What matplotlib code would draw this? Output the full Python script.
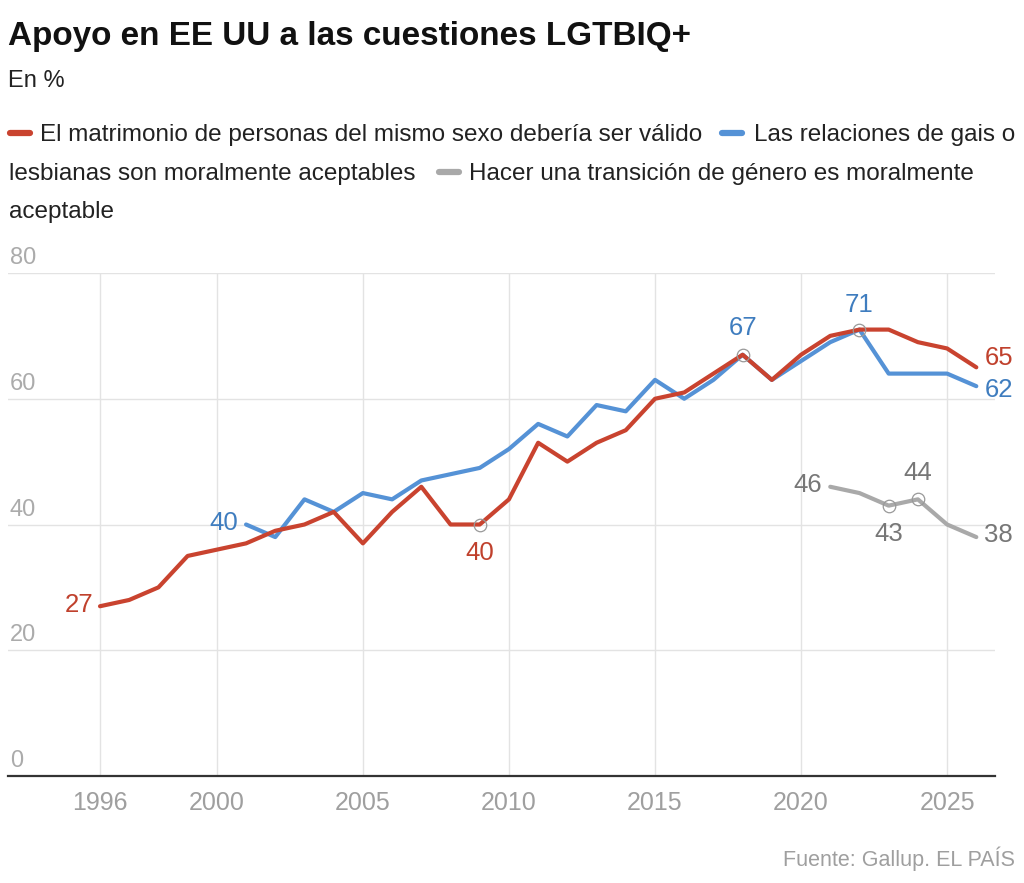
import matplotlib
matplotlib.use("Agg")
import matplotlib.pyplot as plt
from matplotlib.lines import Line2D

# Gallup series (in %)
years_matrimonio = list(range(1996, 2027))
matrimonio = [27, 28, 30, 35, 36, 37, 39, 40, 42, 37, 42, 46, 40, 40, 44, 53,
              50, 53, 55, 60, 61, 64, 67, 63, 67, 70, 71, 71, 69, 68, 65]
years_relaciones = list(range(2001, 2027))
relaciones = [40, 38, 44, 42, 45, 44, 47, 48, 49, 52, 56, 54, 59, 58, 63, 60,
              63, 67, 63, 66, 69, 71, 64, 64, 64, 62]
years_transicion = list(range(2021, 2027))
transicion = [46, 45, 43, 44, 40, 38]

xticks = [1996, 2000, 2005, 2010, 2015, 2020, 2025]
yticks = [20, 40, 60, 80]

RED = "#c9432f"
BLUE = "#5592d6"
GRAY = "#a9a9a9"
RED_TXT = "#c0412d"
BLUE_TXT = "#3f7dbf"
GRAY_TXT = "#777777"

plt.rcParams["font.family"] = ["Liberation Sans", "DejaVu Sans"]

W, H = 1024, 883
fig = plt.figure(figsize=(W / 100, H / 100), dpi=100)


def fx(px):
    return px / W


def fy(py):
    return 1 - py / H


# plot area: value 0 at y=776px, value 80 at y=273px
ax = fig.add_axes([fx(8), fy(776), fx(995) - fx(8), fy(273) - fy(776)])
ax.set_xlim(1992.85, 2026.64)
ax.set_ylim(0, 80)

for s in ["top", "left", "right"]:
    ax.spines[s].set_visible(False)
ax.spines["bottom"].set_color("#333333")
ax.spines["bottom"].set_linewidth(1.6)

ax.set_xticks(xticks)
ax.set_xticklabels([str(y) for y in xticks])
ax.set_yticks(yticks)
ax.set_yticklabels([])
ax.tick_params(axis="x", length=0, pad=11, labelsize=18, labelcolor="#9f9f9f")
ax.tick_params(axis="y", length=0)
ax.grid(True, color="#e3e3e3", linewidth=1)
ax.set_axisbelow(True)

# y labels above the gridlines
for v in [0] + yticks:
    ax.annotate(str(v), xy=(1992.85, v), xytext=(2, 4), textcoords="offset pixels",
                ha="left", va="bottom", fontsize=17, color="#ababab")

ax.plot(years_transicion, transicion, color=GRAY, lw=3, solid_capstyle="round", zorder=3)
ax.plot(years_relaciones, relaciones, color=BLUE, lw=3, solid_capstyle="round", zorder=3)
ax.plot(years_matrimonio, matrimonio, color=RED, lw=3, solid_capstyle="round", zorder=4)

# highlighted points
circ = dict(marker="o", ms=9, mfc="none", mec="#999999", mew=0.9, ls="none", zorder=5)
ax.plot([2009], [matrimonio[years_matrimonio.index(2009)]], **circ)
ax.plot([2018, 2022], [relaciones[years_relaciones.index(2018)],
                       relaciones[years_relaciones.index(2022)]], **circ)
ax.plot([2023, 2024], [transicion[years_transicion.index(2023)],
                       transicion[years_transicion.index(2024)]], **circ)


def label(x, y, txt, color, dx, dy, ha="center"):
    ax.annotate(txt, xy=(x, y), xytext=(dx, dy), textcoords="offset pixels",
                ha=ha, va="center", fontsize=18.5, color=color, zorder=6)


label(1996, matrimonio[0], str(matrimonio[0]), RED_TXT, -7, 1, "right")
label(2009, 40, "40", RED_TXT, 0, -28)
label(2026, matrimonio[-1], str(matrimonio[-1]), RED_TXT, 8, 9, "left")
label(2001, relaciones[0], str(relaciones[0]), BLUE_TXT, -8, 2, "right")
label(2018, 67, "67", BLUE_TXT, 0, 27)
label(2022, 71, "71", BLUE_TXT, 0, 25)
label(2026, relaciones[-1], str(relaciones[-1]), BLUE_TXT, 8, -4, "left")
label(2021, transicion[0], str(transicion[0]), GRAY_TXT, -8, 2, "right")
label(2023, 43, "43", GRAY_TXT, 0, -28)
label(2024, 44, "44", GRAY_TXT, 0, 26)
label(2026, transicion[-1], str(transicion[-1]), GRAY_TXT, 8, 2, "left")

# title block: shrink the bold title to the original width (682 px)
title = fig.text(fx(8), fy(45), "Apoyo en EE UU a las cuestiones LGTBIQ+", fontsize=26,
                 fontweight="bold", color="#111111", va="baseline")
renderer = fig.canvas.get_renderer()
tw = title.get_window_extent(renderer).width
title.set_fontsize(26 * 682 / tw)

fig.text(fx(8), fy(87), "En %", fontsize=17, color="#222222", va="baseline")

# legend, wrapped like the original
leg_items = [
    (10, 141, RED, 40, "El matrimonio de personas del mismo sexo debería ser válido"),
    (722, 141, BLUE, 754, "Las relaciones de gais o"),
    (None, 180, None, 9, "lesbianas son moralmente aceptables"),
    (439, 180, GRAY, 469, "Hacer una transición de género es moralmente"),
    (None, 218, None, 9, "aceptable"),
]
for mx, base, col, tx, txt in leg_items:
    if col is not None:
        fig.add_artist(Line2D([fx(mx), fx(mx + 20)], [fy(base - 8), fy(base - 8)],
                              color=col, lw=4.5, solid_capstyle="round"))
    fig.text(fx(tx), fy(base), txt, fontsize=17.5, color="#222222", va="baseline")

fig.text(fx(1015), fy(866), "Fuente: Gallup. EL PAÍS", fontsize=15.5, color="#9f9f9f",
         ha="right", va="baseline")

fig.savefig("out.png", dpi=100)
